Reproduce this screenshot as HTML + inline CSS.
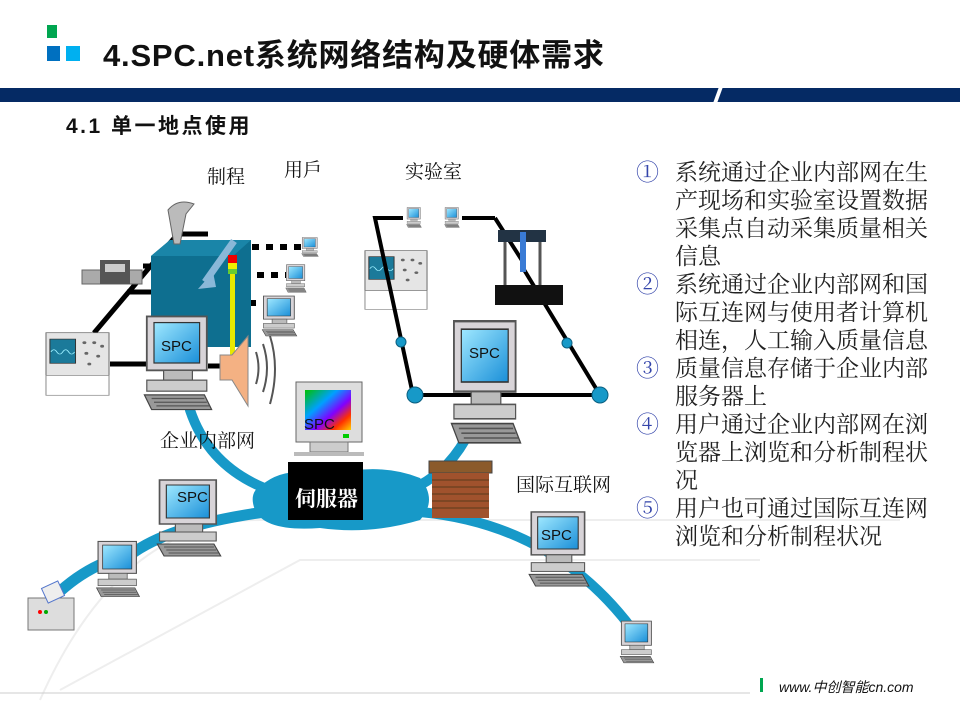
<!DOCTYPE html>
<html><head><meta charset="utf-8"><style>
html,body{margin:0;padding:0;background:#fff;}
body{width:960px;height:720px;overflow:hidden;position:relative;font-family:"Liberation Sans","Noto Sans CJK SC",sans-serif;}
.t{position:absolute;white-space:nowrap;}
.list{position:absolute;left:636px;top:159px;font-family:"Liberation Serif","Noto Serif CJK SC",serif;font-size:23px;line-height:28px;color:#222;}
.list div{position:relative;padding-left:39px;}
.list span{position:absolute;left:0;top:0;color:#3344aa;}
</style></head><body>
<div style="position:absolute;left:47px;top:25px;width:10px;height:13px;background:#00a650"></div>
<div style="position:absolute;left:47px;top:46px;width:13px;height:15px;background:#0070c0"></div>
<div style="position:absolute;left:66px;top:46px;width:14px;height:15px;background:#00b0f0"></div>
<div class="t" style="left:103px;top:30px;font-size:31px;font-weight:bold;color:#111;letter-spacing:0.8px;">4.SPC.net系统网络结构及硬体需求</div>
<div style="position:absolute;left:0;top:88px;width:960px;height:14px;background:#052a64"></div>
<div style="position:absolute;left:716px;top:86px;width:4px;height:18px;background:#fff;transform:skewX(-20deg)"></div>
<div class="t" style="left:66px;top:110px;font-size:21px;font-weight:bold;color:#111;letter-spacing:2.5px;">4.1 单一地点使用</div>

<svg width="960" height="720" style="position:absolute;left:0;top:0" xmlns="http://www.w3.org/2000/svg">
<defs>
<linearGradient id="scr" x1="0" y1="0" x2="1" y2="1"><stop offset="0" stop-color="#9fe8ff"/><stop offset="1" stop-color="#1a8fd8"/></linearGradient>
<linearGradient id="rb" x1="0" y1="0" x2="1" y2="1"><stop offset="0" stop-color="#00c000"/><stop offset=".35" stop-color="#00a0ff"/><stop offset=".6" stop-color="#8000ff"/><stop offset=".8" stop-color="#ff3000"/><stop offset="1" stop-color="#ffd000"/></linearGradient>
<symbol id="pc" viewBox="0 0 60 80" preserveAspectRatio="none">
<rect x="4" y="2" width="50" height="44" fill="#d8d4d8" stroke="#555" stroke-width="1.5"/>
<rect x="10" y="7" width="38" height="33" fill="url(#scr)" stroke="#333"/>
<rect x="18" y="46" width="24" height="8" fill="#bbb" stroke="#555"/>
<rect x="4" y="54" width="50" height="9" fill="#ccc" stroke="#555"/>
<path d="M2 66 L52 66 L58 78 L8 78 Z" fill="#999" stroke="#444"/>
<path d="M8 69 H52 M10 72 H54 M12 75 H56" stroke="#555"/>
</symbol>
<symbol id="osc" viewBox="0 0 66 90" preserveAspectRatio="none">
<rect x="1" y="1" width="64" height="60" fill="#e5e5e5" stroke="#666"/>
<rect x="5" y="10" width="26" height="34" fill="#1b7a9a" stroke="#333"/>
<path d="M6 28 q3 -6 6 0 t6 0 t6 0 t6 0" stroke="#9ef" fill="none"/>
<g fill="#666"><circle cx="40" cy="15" r="2"/><circle cx="50" cy="15" r="2"/><circle cx="58" cy="20" r="2"/><circle cx="42" cy="30" r="2"/><circle cx="54" cy="34" r="2"/><circle cx="45" cy="45" r="2"/></g>
<rect x="1" y="61" width="64" height="28" fill="#fff" stroke="#888"/>
</symbol>
</defs>

<g fill="none" stroke="#eee" stroke-width="2">
<path d="M40 700 Q120 520 260 520 L900 520"/>
<path d="M60 690 L300 560 L760 560"/>
</g>

<g fill="none" stroke="#1799c8" stroke-linecap="round">
<path d="M190 410 Q210 470 275 492" stroke-width="10"/>
<path d="M465 440 Q445 475 410 490" stroke-width="10"/>
<path d="M40 612 Q80 565 130 555 Q170 525 265 512" stroke-width="11"/>
<path d="M420 512 Q560 525 640 640" stroke-width="10"/>
</g>
<path d="M262 485 Q285 465 330 475 Q380 462 420 478 Q438 500 420 520 Q370 535 320 528 Q265 532 255 510 Q248 492 262 485 Z" fill="#1799c8"/>

<g stroke="#000" stroke-width="5" fill="none">
<path d="M176 236 L94 333"/>
<path d="M180 234 H208"/>
<path d="M143 266 H171"/>
<path d="M127 292 H152"/>
<path d="M110 364 H148"/>
<path d="M208 366 H222"/>
</g>
<g stroke="#000" stroke-width="6" stroke-dasharray="7 7">
<path d="M252 247 H302"/><path d="M257 275 H286"/><path d="M249 303 H262"/>
</g>
<path d="M151 256 L170 240 L251 240 L251 347 L151 347 Z" fill="#0e6f90"/>
<path d="M151 256 L170 240 L251 240 L233 256 Z" fill="#1a85a8"/>
<path d="M234 241 L205 282" stroke="#8ab8d8" stroke-width="7"/>
<path d="M198 289 L213 272 L216 287 Z" fill="#8ab8d8"/>
<rect x="230" y="268" width="5" height="88" fill="#e8e800"/>
<rect x="228" y="255" width="9" height="8" fill="#e00"/>
<rect x="228" y="263" width="9" height="6" fill="#ee0"/>
<rect x="228" y="269" width="9" height="5" fill="#6c3"/>
<path d="M220 355 L232 355 L248 336 L248 406 L232 380 L220 380 Z" fill="#f4b183" stroke="#888"/>
<path d="M256 352 q5 16 0 32 M263 344 q8 24 0 48 M270 336 q10 32 0 68" stroke="#555" stroke-width="2" fill="none"/>
<path d="M168 210 Q178 198 194 204 L186 214 L180 244 L174 244 Z" fill="#bbb" stroke="#666"/>
<rect x="82" y="270" width="60" height="14" fill="#aaa" stroke="#666"/>
<rect x="100" y="260" width="30" height="24" fill="#555"/>
<rect x="105" y="264" width="20" height="8" fill="#ccc"/>

<use href="#osc" x="45" y="332" width="65" height="64"/>
<use href="#osc" x="364" y="250" width="64" height="60"/>

<g stroke="#000" stroke-width="4" fill="none">
<path d="M403 218 H375 L413 395 H600 L523 268 M495 218 L523 262 M462 218 H495"/>
</g>
<g fill="#1799c8" stroke="#0a5f80"><circle cx="401" cy="342" r="5"/><circle cx="567" cy="343" r="5"/><circle cx="415" cy="395" r="8"/><circle cx="600" cy="395" r="8"/></g>
<rect x="495" y="285" width="68" height="20" fill="#111"/>
<path d="M505 285 L505 240 L540 240 L540 285" stroke="#555" stroke-width="3" fill="none"/>
<rect x="498" y="230" width="48" height="12" fill="#234"/>
<rect x="520" y="232" width="6" height="40" fill="#3a7bd5"/>

<use href="#pc" x="301" y="237" width="18" height="20"/>
<use href="#pc" x="285" y="264" width="22" height="29"/>
<use href="#pc" x="261" y="295" width="37" height="42"/>
<use href="#pc" x="406" y="207" width="16" height="21"/>
<use href="#pc" x="444" y="207" width="16" height="21"/>
<use href="#pc" x="95" y="540" width="46" height="58"/>
<use href="#pc" x="619" y="620" width="36" height="44"/>
<use href="#pc" x="142" y="314" width="72" height="98"/>
<use href="#pc" x="449" y="318" width="74" height="128"/>
<use href="#pc" x="155" y="478" width="68" height="80"/>
<use href="#pc" x="527" y="510" width="64" height="78"/>
<g font-family="Liberation Sans, sans-serif" font-size="15" fill="#111">
<text x="161" y="351">SPC</text><text x="469" y="358">SPC</text><text x="177" y="502">SPC</text><text x="541" y="540">SPC</text>
</g>
<rect x="296" y="382" width="66" height="60" fill="#ddd" stroke="#666"/>
<rect x="305" y="390" width="46" height="40" fill="url(#rb)"/>
<rect x="343" y="434" width="6" height="4" fill="#0c0"/>
<rect x="310" y="442" width="38" height="10" fill="#ccc" stroke="#777"/>
<rect x="294" y="452" width="70" height="4" fill="#bbb"/>
<text x="304" y="429" font-size="15" fill="#111" font-family="Liberation Sans, sans-serif">SPC</text>
<rect x="288" y="462" width="75" height="58" fill="#000"/>
<text x="295" y="506" font-size="21" fill="#fff" font-weight="bold" font-family="Noto Serif CJK SC, serif">伺服器</text>
<rect x="429" y="461" width="63" height="12" fill="#8b5a2b" stroke="#444"/>
<rect x="432" y="473" width="57" height="45" fill="#a0522d"/>
<g stroke="#5a3a1a" stroke-width="1">
<path d="M432 480H489M432 487H489M432 494H489M432 501H489M432 508H489"/>
</g>
<g font-family="Liberation Serif, Noto Serif CJK SC, serif" font-size="19" fill="#111">
<text x="207" y="183">制程</text>
<text x="284" y="176">用戶</text>
<text x="405" y="178">实验室</text>
<text x="160" y="447">企业内部网</text>
<text x="516" y="491">国际互联网</text>
</g>
<rect x="28" y="598" width="46" height="32" fill="#ddd" stroke="#777"/>
<rect x="44" y="584" width="18" height="16" fill="#eee" stroke="#5577cc" transform="rotate(-25 53 592)"/>
<circle cx="40" cy="612" r="2" fill="red"/><circle cx="46" cy="612" r="2" fill="#0a0"/>
<line x1="0" y1="693" x2="750" y2="693" stroke="#ccc" stroke-width="1"/>
</svg>

<div class="list">
<div><span>①</span>系统通过企业内部网在生<br>产现场和实验室设置数据<br>采集点自动采集质量相关<br>信息</div>
<div><span>②</span>系统通过企业内部网和国<br>际互连网与使用者计算机<br>相连，人工输入质量信息</div>
<div><span>③</span>质量信息存储于企业内部<br>服务器上</div>
<div><span>④</span>用户通过企业内部网在浏<br>览器上浏览和分析制程状<br>况</div>
<div><span>⑤</span>用户也可通过国际互连网<br>浏览和分析制程状况</div>
</div>
<div style="position:absolute;left:760px;top:678px;width:3px;height:14px;background:#00a650"></div>
<div class="t" style="left:779px;top:677px;font-size:14px;font-style:italic;color:#111;">www.中创智能cn.com</div>
</body></html>
